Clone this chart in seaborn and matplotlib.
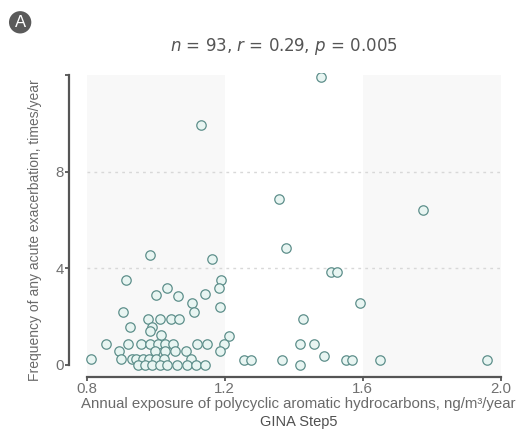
import pandas as pd
import matplotlib
matplotlib.use("Agg")
import matplotlib.pyplot as plt
import seaborn as sns

# exposure (ng/m3/year) and exacerbation frequency
pah = [1.130, 1.357, 1.478, 1.776,
       1.377, 1.507, 1.527, 1.593, 1.427,
       1.419, 1.459, 1.487, 1.419, 1.552, 1.568, 1.651, 1.961,
       1.256, 1.277, 1.367,
       0.983, 1.163, 0.913, 1.188, 1.183, 1.033, 1.001, 1.063, 1.144, 1.106, 1.112, 1.186, 0.904,
       0.978, 1.012, 1.043, 1.068,
       0.925, 0.988, 0.982, 1.016, 1.213,
       0.855, 0.918, 0.956, 0.982, 1.005, 1.028, 1.051, 1.119, 1.149, 1.197,
       0.894, 0.998, 1.026, 1.055, 1.087, 1.186,
       0.811, 0.899, 0.932, 0.944, 0.963, 0.980, 1.000, 1.023, 1.103,
       0.948, 0.968, 0.988, 1.012, 1.033, 1.062, 1.091, 1.116, 1.144]
freq = [9.95, 6.87, 11.9, 6.43,
        4.85, 3.85, 3.85, 2.55, 1.9,
        0.88, 0.88, 0.38, 0.0, 0.22, 0.22, 0.2, 0.19,
        0.22, 0.22, 0.22,
        4.55, 4.4, 3.53, 3.5, 3.19, 3.2, 2.9, 2.87, 2.92, 2.56, 2.21, 2.39, 2.2,
        1.9, 1.9, 1.9, 1.9,
        1.57, 1.55, 1.40, 1.22, 1.21,
        0.88, 0.88, 0.88, 0.88, 0.88, 0.88, 0.88, 0.88, 0.88, 0.88,
        0.56, 0.56, 0.56, 0.56, 0.56, 0.56,
        0.24, 0.24, 0.24, 0.24, 0.24, 0.24, 0.24, 0.24, 0.24,
        0.0, 0.0, 0.0, 0.0, 0.0, 0.0, 0.0, 0.0, 0.0]

xticks = [0.8, 1.2, 1.6, 2.0]
xticklabels = ["0.8", "1.2", "1.6", "2.0"]
yticks = [0, 4, 8, 12]
yticklabels = ["0", "4", "8", ""]
bands = [(0.8, 1.2), (1.6, 2.0)]

df = pd.DataFrame({"pah": pah, "freq": freq})

sns.set_style("white")
plt.rcParams["font.family"] = ["Liberation Sans", "DejaVu Sans"]

fig = plt.figure(figsize=(5.3, 4.46), dpi=100)
ax = fig.add_axes([0.130, 0.1547, 0.834, 0.6825])

# shaded bands and dotted grid
for lo, hi in bands:
    ax.axvspan(lo, hi, ymin=0, ymax=(12 + 0.5) / 12.6, color="#f8f8f8", zorder=0, lw=0)
for yv in [4, 8]:
    ax.hlines(yv, 0.8, 2.0, colors="#d8d8d8", linestyles=(0, (2, 3)), lw=1, zorder=1)

sns.scatterplot(data=df, x="pah", y="freq", ax=ax, s=46, color="#e8f5f2",
                edgecolor="#5e8f8b", linewidth=0.9, zorder=3)

ax.set_xlim(0.748, 2.03)
ax.set_ylim(-0.5, 12.1)
ax.set_xticks(xticks)
ax.set_xticklabels(xticklabels)
ax.set_yticks(yticks)
ax.set_yticklabels(yticklabels)
ax.tick_params(axis="both", direction="out", length=3, width=1.3, color="#555555",
               labelcolor="#707070", labelsize=10.8, pad=0.5, left=True, bottom=True)

for side in ["top", "right"]:
    ax.spines[side].set_visible(False)
ax.spines["left"].set_bounds(0, 12)
ax.spines["bottom"].set_bounds(0.8, 2.0)
for side in ["left", "bottom"]:
    ax.spines[side].set_color("#555555")
    ax.spines[side].set_linewidth(1.6)

ax.set_xlabel("")
ax.set_ylabel("Frequency of any acute exacerbation, times/year", fontsize=10,
              color="#6a6a6a")
ax.yaxis.set_label_coords(-0.06, 0.483)

fig.text(0.563, 0.094, "Annual exposure of polycyclic aromatic hydrocarbons, ng/m³/year",
         ha="center", va="center", fontsize=10.8, color="#6a6a6a")
fig.text(0.563, 0.053, "GINA Step5", ha="center", va="center", fontsize=10.5, color="#505050")

fig.text(0.536, 0.895, r"$\it{n}$ = 93, $\it{r}$ = 0.29, $\it{p}$ = 0.005",
         ha="center", va="center", fontsize=12, color="#555555", family="DejaVu Sans")

fig.text(0.038, 0.950, "A", ha="center", va="center", fontsize=12, color="white",
         bbox=dict(boxstyle="circle,pad=0.22", fc="#5a5a5a", ec="none"))

fig.savefig("out.png", dpi=100)
